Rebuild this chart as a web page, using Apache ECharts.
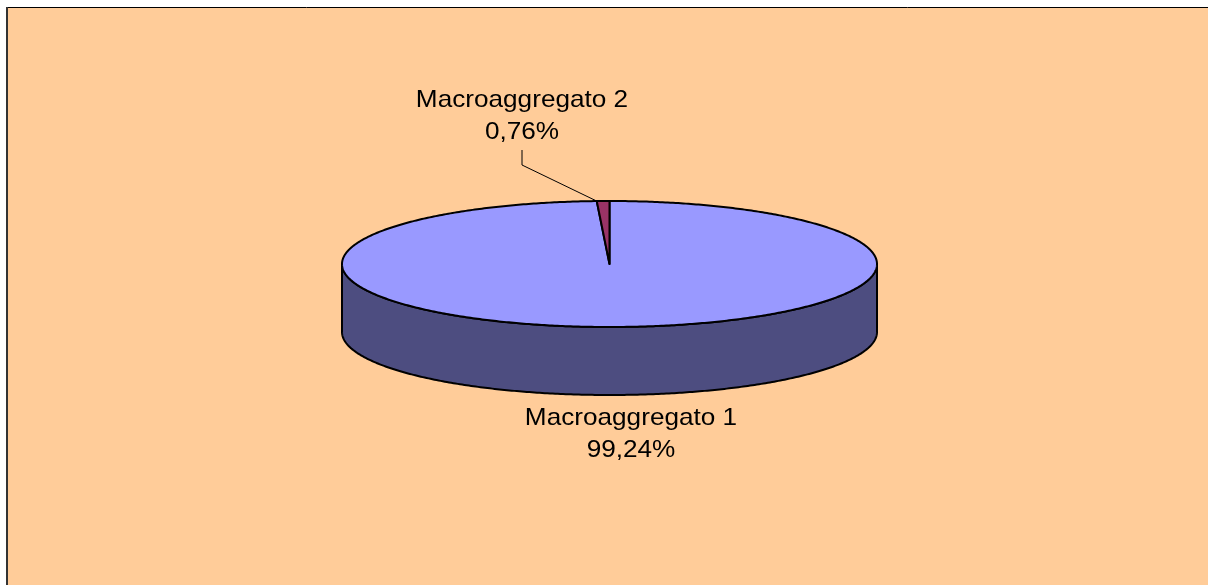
<!DOCTYPE html>
<html>
<head>
<meta charset="utf-8">
<script src="https://cdn.jsdelivr.net/npm/echarts@6/dist/echarts.min.js"></script>
<style>
  html, body { margin: 0; padding: 0; background: #fff; }
  #chart { width: 1208px; height: 586px; }
</style>
</head>
<body>
<div id="chart"></div>
<script>
const sliceNames = ['Macroaggregato 1', 'Macroaggregato 2'];
const sliceValues = [99.24, 0.76];
const topColors = ['#9999FF', '#993366'];
const sideColors = ['#4D4D80', '#4D1A33'];

// pie geometry (ellipse top face + wall depth)
const CX = 609.5, CY = 264, RX = 267.5, RY = 63, DEPTH = 68;
// label centers and leader lines (layout only)
const labelPos = [[631, 434], [522, 116]];
const leaderFrom = [null, [522, 150, 165]];

function pt(t, dy) {
  return [CX + RX * Math.cos(t), CY + RY * Math.sin(t) + dy];
}

function fmt(v) {
  return v.toFixed(2).replace('.', ',') + '%';
}

function renderItem(params, api) {
  const i = params.dataIndex;
  const total = sliceValues.reduce((a, b) => a + b, 0);
  let cum = 0;
  for (let k = 0; k < i; k++) cum += sliceValues[k];
  // start at 12 o'clock, clockwise
  const t0 = -Math.PI / 2 + 2 * Math.PI * cum / total;
  const t1 = t0 + 2 * Math.PI * api.value(0) / total;
  const children = [];

  // outer wall, only the front half is visible
  const a = Math.max(t0, 0), b = Math.min(t1, Math.PI);
  if (b > a) {
    const pts = [];
    const n = Math.max(2, Math.ceil((b - a) / 0.01));
    for (let s = 0; s <= n; s++) pts.push(pt(a + (b - a) * s / n, 0));
    for (let s = n; s >= 0; s--) pts.push(pt(a + (b - a) * s / n, DEPTH));
    children.push({
      type: 'polygon', z2: 1,
      shape: { points: pts },
      style: { fill: sideColors[i], stroke: '#000', lineWidth: 2, lineJoin: 'round' }
    });
  }

  // top face
  const top = [[CX, CY]];
  const n = Math.max(2, Math.ceil((t1 - t0) / 0.01));
  for (let s = 0; s <= n; s++) top.push(pt(t0 + (t1 - t0) * s / n, 0));
  children.push({
    type: 'polygon', z2: 2,
    shape: { points: top },
    style: { fill: topColors[i], stroke: '#000', lineWidth: 2, lineJoin: 'round' }
  });

  // leader line
  if (leaderFrom[i]) {
    const lf = leaderFrom[i];
    children.push({
      type: 'polyline', z2: 3,
      shape: { points: [[lf[0], lf[1]], [lf[0], lf[2]], pt(t0, 0)] },
      style: { stroke: '#000', lineWidth: 1, fill: null }
    });
  }

  // label
  children.push({
    type: 'text', z2: 4,
    x: labelPos[i][0], y: labelPos[i][1], scaleX: 1.09,
    style: {
      text: sliceNames[i] + '\n' + fmt(api.value(0)),
      fill: '#000',
      font: '24px "Liberation Sans", Arial, sans-serif',
      align: 'center', verticalAlign: 'middle', lineHeight: 32
    }
  });

  return { type: 'group', children };
}

const chart = echarts.init(document.getElementById('chart'));
chart.setOption({
  backgroundColor: '#ffffff',
  animation: false,
  graphic: [
    { type: 'rect', z: -10, shape: { x: 7, y: 7, width: 1210, height: 578 },
      style: { fill: '#FFCC99' } },
    { type: 'line', z: -9, shape: { x1: 6, y1: 7.5, x2: 1208, y2: 7.5 },
      style: { stroke: '#000', lineWidth: 1 } },
    { type: 'line', z: -9, shape: { x1: 7, y1: 7, x2: 7, y2: 585 },
      style: { stroke: '#333', lineWidth: 2 } }
  ],
  series: [{
    type: 'custom',
    coordinateSystem: 'none',
    silent: true,
    renderItem: renderItem,
    data: sliceValues.map((v, i) => ({ name: sliceNames[i], value: [v, i] }))
  }]
});
</script>
</body>
</html>
